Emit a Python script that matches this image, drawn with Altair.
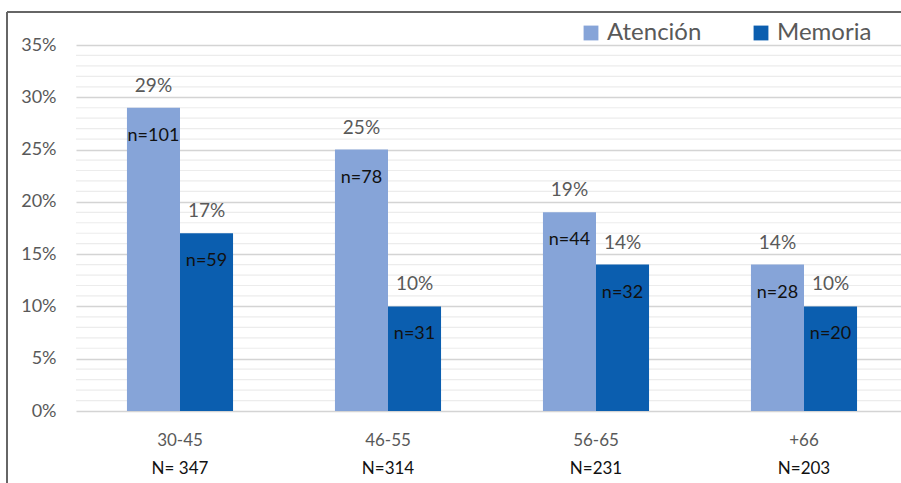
import altair as alt
import pandas as pd

categories = ["30-45", "46-55", "56-65", "+66"]
group_n = ["N= 347", "N=314", "N=231", "N=203"]
series = ["Atención", "Memoria"]
atencion = [0.29, 0.25, 0.19, 0.14]
memoria = [0.17, 0.10, 0.14, 0.10]
n_atencion = [101, 78, 44, 28]
n_memoria = [59, 31, 32, 20]
major_ticks = [0.0, 0.05, 0.10, 0.15, 0.20, 0.25, 0.30, 0.35]
minor_grid = [i / 100 for i in range(36) if i % 5 != 0]

rows = []
for i, c in enumerate(categories):
    rows.append({"cat": c, "serie": series[0], "val": atencion[i], "n": f"n={n_atencion[i]}"})
    rows.append({"cat": c, "serie": series[1], "val": memoria[i], "n": f"n={n_memoria[i]}"})
df = pd.DataFrame(rows)
df["pct"] = (df["val"] * 100).round().astype(int).astype(str) + "%"

cat_df = pd.DataFrame({"cat": categories, "N": group_n})
minor_df = pd.DataFrame({"g": minor_grid})

FONT = "Lato"
GRAY = "#595959"
W, H = 825, 366

xscale = alt.Scale(domain=categories, range=[0, 832], paddingInner=0.49, paddingOuter=0.245)
yscale = alt.Scale(domain=[0, 0.35], nice=False)
color_scale = alt.Scale(domain=series, range=["#86A4D8", "#0B5EAF"])

yaxis = alt.Axis(
    values=major_ticks,
    format=".0%",
    gridColor="#d4d4d4",
    gridWidth=1.3,
    domain=False,
    ticks=False,
    labelOverlap=False,
    labelColor=GRAY,
    labelFontSize=18,
    labelFont=FONT,
    labelPadding=20,
    title=None,
)

minor = alt.Chart(minor_df).mark_rule(color="#ececec", strokeWidth=1.2).encode(
    y=alt.Y("g:Q", scale=yscale, axis=yaxis),
)

base = alt.Chart(df)

bars = base.mark_bar().encode(
    x=alt.X("cat:N", scale=xscale, axis=None, sort=categories),
    xOffset=alt.XOffset("serie:N", sort=series),
    y=alt.Y("val:Q", scale=yscale, axis=yaxis),
    color=alt.Color(
        "serie:N",
        scale=color_scale,
        legend=alt.Legend(
            title=None,
            orient="none",
            legendX=503,
            legendY=-24,
            direction="horizontal",
            symbolType="square",
            symbolSize=220,
            symbolStrokeWidth=0,
            labelFontSize=24,
            labelFont=FONT,
            labelColor=GRAY,
            columnPadding=47,
            labelOffset=4,
            labelLimit=300,
        ),
    ),
)

pct = base.mark_text(baseline="bottom", dy=-12, fontSize=19, font=FONT, color=GRAY).encode(
    x=alt.X("cat:N", scale=xscale, sort=categories),
    xOffset=alt.XOffset("serie:N", sort=series),
    y=alt.Y("val:Q", scale=yscale),
    text="pct:N",
)

nlab = base.mark_text(baseline="middle", dy=28, fontSize=18, font=FONT, color="#111111").encode(
    x=alt.X("cat:N", scale=xscale, sort=categories),
    xOffset=alt.XOffset("serie:N", sort=series),
    y=alt.Y("val:Q", scale=yscale),
    text="n:N",
)

catlab = alt.Chart(cat_df).mark_text(baseline="middle", fontSize=17, font=FONT, color=GRAY).encode(
    x=alt.X("cat:N", scale=xscale, sort=categories),
    y=alt.value(H + 30),
    text="cat:N",
)

nglab = alt.Chart(cat_df).mark_text(baseline="middle", fontSize=17, font=FONT, color="#111111").encode(
    x=alt.X("cat:N", scale=xscale, sort=categories),
    y=alt.value(H + 58),
    text="N:N",
)

frame_top = alt.Chart(cat_df).mark_rule(color="#666666", strokeWidth=1.5, clip=False).encode(
    x=alt.value(-69), x2=alt.value(W), y=alt.value(-33)
)
frame_left = alt.Chart(cat_df).mark_rule(color="#666666", strokeWidth=1.5, clip=False).encode(
    x=alt.value(-69), y=alt.value(-33), y2=alt.value(H + 72)
)

chart = (
    alt.layer(minor, bars, pct, nlab, catlab, nglab, frame_top, frame_left)
    .properties(
        width=W,
        height=H,
        autosize=alt.AutoSizeParams(type="none"),
        padding={"left": 76, "top": 45, "right": 0, "bottom": 72},
        background="white",
    )
    .configure_view(stroke=None)
)

chart.save("out.html", embed_options={"renderer": "svg", "actions": False})
